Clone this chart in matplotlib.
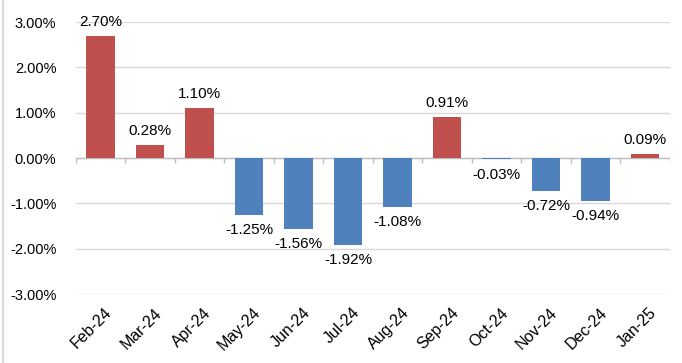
import matplotlib.pyplot as plt
import matplotlib.transforms as mtransforms
from matplotlib.ticker import FuncFormatter

plt.rcParams['font.family'] = ['Liberation Sans', 'DejaVu Sans']

months = ["Feb-24", "Mar-24", "Apr-24", "May-24", "Jun-24", "Jul-24",
          "Aug-24", "Sep-24", "Oct-24", "Nov-24", "Dec-24", "Jan-25"]
changes = [2.70, 0.28, 1.10, -1.25, -1.56, -1.92, -1.08, 0.91, -0.03, -0.72, -0.94, 0.09]
y_ticks = [-3, -2, -1, 0, 1, 2, 3]

red = "#C0504D"
blue = "#4F81BD"

fig = plt.figure(figsize=(6.82, 3.63), dpi=100)
ax = fig.add_axes([0.111, 0.19, 0.871, 0.749])

colors = [red if v >= 0 else blue for v in changes]
x = list(range(len(months)))
ax.bar(x, changes, width=0.57, color=colors, zorder=3)

# data labels
for i, v in zip(x, changes):
    if v >= 0:
        ax.annotate(f"{v:.2f}%", (i, v), xytext=(0, 5), textcoords="offset points",
                    ha="center", va="bottom", fontsize=11, annotation_clip=False)
    else:
        ax.annotate(f"{v:.2f}%", (i, v), xytext=(0, -6), textcoords="offset points",
                    ha="center", va="top", fontsize=11, annotation_clip=False)

ax.set_ylim(-3, 3)
ax.set_xlim(-0.5, len(months) - 0.5)
ax.set_yticks(y_ticks)
ax.yaxis.set_major_formatter(FuncFormatter(lambda v, p: f"{v:.2f}%"))
ax.grid(axis="y", color="#D9D9D9", linewidth=1, zorder=0)
ax.tick_params(axis="y", length=0, labelsize=10.5, pad=14)

for s in ax.spines.values():
    s.set_visible(False)

# category axis at zero, with ticks between categories
ax.axhline(0, color="#BFBFBF", linewidth=1, zorder=2)
ax.vlines([i - 0.5 for i in range(len(months) + 1)], 0, -0.1, color="#BFBFBF",
          linewidth=1, zorder=2)

ax.set_xticks(x)
ax.set_xticklabels(months, rotation=45, ha="right", rotation_mode="anchor", fontsize=11.5)
ax.tick_params(axis="x", length=0, pad=8)
shift = mtransforms.ScaledTranslation(4 / 100, 0, fig.dpi_scale_trans)
for lbl in ax.get_xticklabels():
    lbl.set_transform(lbl.get_transform() + shift)

# left frame line of the chart
fig.add_artist(plt.Line2D([0.005, 0.005], [0, 1], color="#D9D9D9", linewidth=1.5))

fig.savefig("out.png", dpi=100)
